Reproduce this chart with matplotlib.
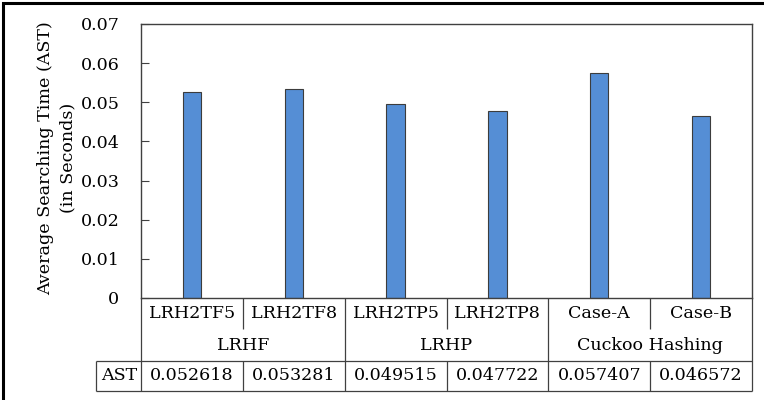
import matplotlib
matplotlib.use('Agg')
import matplotlib.pyplot as plt
from matplotlib.patches import Rectangle

# data
categories = ['LRH2TF5', 'LRH2TF8', 'LRH2TP5', 'LRH2TP8', 'Case-A', 'Case-B']
groups = ['LRHF', 'LRHP', 'Cuckoo Hashing']
group_size = [2, 2, 2]
ast_values = [0.052618, 0.053281, 0.049515, 0.047722, 0.057407, 0.046572]
y_ticks = [0, 0.01, 0.02, 0.03, 0.04, 0.05, 0.06, 0.07]

W, H = 764, 400
FONT = 'DejaVu Serif'
FS = 12.6
LINE = '#404040'

plt.rcParams['font.family'] = [FONT]

fig = plt.figure(figsize=(W / 100, H / 100), dpi=100)
# plot area in pixels: left 141, right 752, top 24, bottom 298
ax_l, ax_r, ax_t, ax_b = 141, 752, 24, 298
ax = fig.add_axes([ax_l / W, 1 - ax_b / H, (ax_r - ax_l) / W, (ax_b - ax_t) / H])
ax_h = ax_b - ax_t
col_px = (ax_r - ax_l) / len(categories)

x = list(range(len(categories)))
ax.bar(x, ast_values, width=0.18, color='#558ED5', edgecolor='#3C3C3C', linewidth=0.8)

ax.set_xlim(-0.5, len(categories) - 0.5)
ax.set_ylim(0, 0.07)
ax.set_yticks(y_ticks)
ax.set_yticklabels(['0' if v == 0 else f'{v:.2f}' for v in y_ticks], fontsize=FS)
ax.tick_params(axis='y', direction='in', length=6, width=0.8, color=LINE, pad=15.5)
ax.set_xticks([])
for s in ax.spines.values():
    s.set_color(LINE)
    s.set_linewidth(1.0)

ax.set_ylabel('Average Searching Time (AST)\n(in Seconds)', fontsize=FS,
              multialignment='center', va='center', linespacing=1.4)
ax.yaxis.set_label_coords((57 - ax_l) / (ax_r - ax_l), 0.51)

# data table under the plot (x in data units, y in axes fraction)
tr = ax.get_xaxis_transform()


def ypx(py):
    return -(py - ax_b) / ax_h


def tline(xs, ys):
    ax.plot(xs, ys, color=LINE, lw=0.9, transform=tr, clip_on=False,
            solid_capstyle='butt')


x_left = -0.5
x_right = len(categories) - 0.5
x_ast = -0.5 - (ax_l + 0.5 - 97) / col_px
y1, y2, y3 = ypx(329), ypx(361), ypx(391)

# horizontal lines
tline([x_ast, x_right], [y2, y2])
tline([x_ast, x_right], [y3, y3])
# outer verticals
tline([x_left, x_left], [0, y3])
tline([x_right, x_right], [0, y3])
tline([x_ast, x_ast], [y2, y3])
# inner verticals
edge = -0.5
bounds = []
for n in group_size:
    edge += n
    bounds.append(edge)
for i in range(1, len(categories)):
    b = i - 0.5
    if b in bounds:
        tline([b, b], [0, y3])
    else:
        tline([b, b], [0, y1])
        tline([b, b], [y2, y3])

# text
for i, c in enumerate(categories):
    ax.text(i, ypx(314), c, transform=tr, ha='center', va='center', fontsize=FS)
    ax.text(i, ypx(376), f'{ast_values[i]:.6f}', transform=tr, ha='center',
            va='center', fontsize=FS)
start = 0
for g, n in zip(groups, group_size):
    ax.text(start + (n - 1) / 2, ypx(345), g, transform=tr, ha='center',
            va='center', fontsize=FS)
    start += n
ax.text((x_ast + x_left) / 2, ypx(376), 'AST', transform=tr, ha='center',
        va='center', fontsize=FS)

# outer frame (only top and left edges visible in the reference)
fig.patches.append(Rectangle((2.5 / W, -0.1), 1.2, 1 - 2.5 / H + 0.1,
                             transform=fig.transFigure, fill=False,
                             edgecolor='black', linewidth=2.2))

fig.savefig('out.png', dpi=100)
